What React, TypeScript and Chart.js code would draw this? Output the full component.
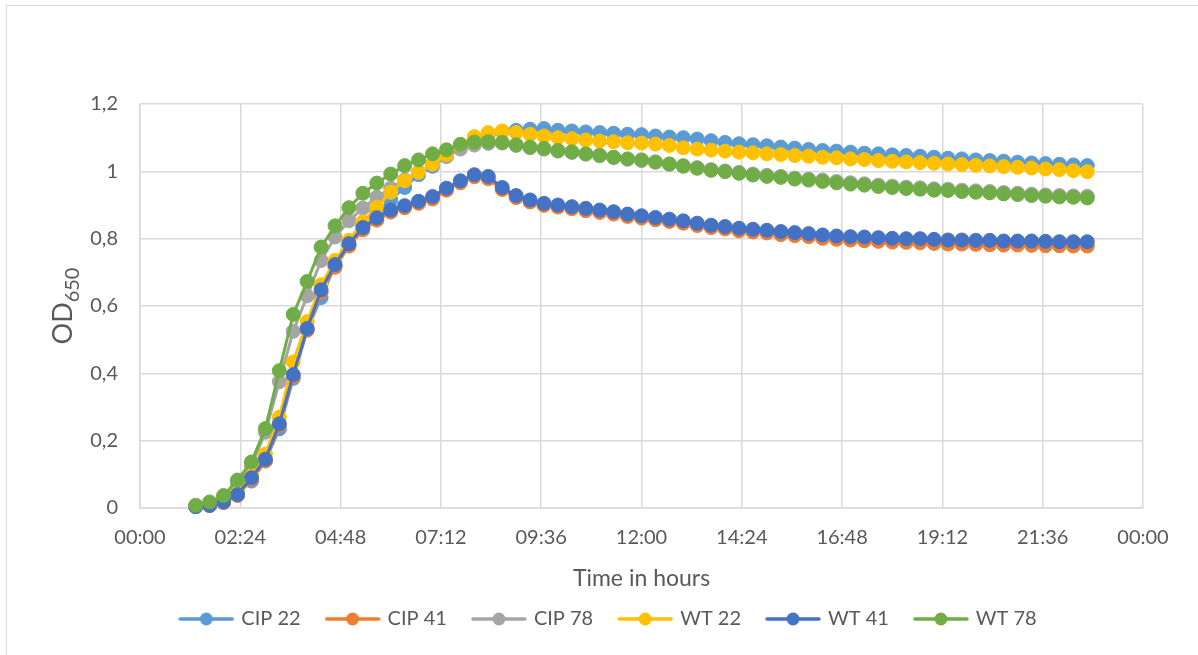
import React, { useEffect, useRef } from "react";
import { Chart, registerables } from "chart.js";

Chart.register(...registerables);

// ---- data ----
const timeLabels = [
  "01:20", "01:40", "02:00", "02:20", "02:40", "03:00", "03:20", "03:40", "04:00", "04:20",
  "04:40", "05:00", "05:20", "05:40", "06:00", "06:20", "06:40", "07:00", "07:20", "07:40",
  "08:00", "08:20", "08:40", "09:00", "09:20", "09:40", "10:00", "10:20", "10:40", "11:00",
  "11:20", "11:40", "12:00", "12:20", "12:40", "13:00", "13:20", "13:40", "14:00", "14:20",
  "14:40", "15:00", "15:20", "15:40", "16:00", "16:20", "16:40", "17:00", "17:20", "17:40",
  "18:00", "18:20", "18:40", "19:00", "19:20", "19:40", "20:00", "20:20", "20:40", "21:00",
  "21:20", "21:40", "22:00", "22:20", "22:40",
];

const cip22 = [
  0.004, 0.008, 0.02, 0.045, 0.08, 0.14, 0.235, 0.385, 0.53, 0.625,
  0.72, 0.78, 0.84, 0.88, 0.915, 0.952, 0.99, 1.015, 1.045, 1.075,
  1.095, 1.11, 1.118, 1.122, 1.125, 1.127, 1.122, 1.12, 1.117, 1.115,
  1.113, 1.11, 1.109, 1.105, 1.102, 1.1, 1.096, 1.091, 1.086, 1.082,
  1.079, 1.076, 1.072, 1.069, 1.065, 1.062, 1.06, 1.057, 1.054, 1.052,
  1.049, 1.047, 1.045, 1.042, 1.039, 1.037, 1.034, 1.032, 1.03, 1.027,
  1.025, 1.023, 1.021, 1.019, 1.017,
];

const cip41 = [
  0.004, 0.007, 0.016, 0.037, 0.085, 0.14, 0.245, 0.39, 0.528, 0.64,
  0.715, 0.778, 0.826, 0.855, 0.879, 0.892, 0.905, 0.918, 0.944, 0.966,
  0.984, 0.978, 0.946, 0.922, 0.909, 0.899, 0.894, 0.889, 0.883, 0.878,
  0.873, 0.866, 0.861, 0.856, 0.851, 0.846, 0.839, 0.833, 0.829, 0.823,
  0.82, 0.817, 0.812, 0.809, 0.806, 0.801, 0.798, 0.796, 0.794, 0.792,
  0.79, 0.789, 0.788, 0.786, 0.784, 0.784, 0.783, 0.782, 0.781, 0.781,
  0.78, 0.779, 0.779, 0.778, 0.778,
];

const cip78 = [
  0.005, 0.012, 0.03, 0.072, 0.125, 0.225, 0.375, 0.525, 0.63, 0.735,
  0.805, 0.853, 0.891, 0.923, 0.95, 0.975, 0.998, 1.02, 1.044, 1.066,
  1.078, 1.083, 1.084, 1.077, 1.07, 1.066, 1.06, 1.056, 1.051, 1.046,
  1.041, 1.036, 1.032, 1.027, 1.021, 1.017, 1.011, 1.005, 1.001, 0.997,
  0.992, 0.988, 0.985, 0.98, 0.977, 0.974, 0.97, 0.966, 0.963, 0.959,
  0.956, 0.953, 0.951, 0.948, 0.947, 0.944, 0.942, 0.94, 0.937, 0.935,
  0.932, 0.93, 0.928, 0.927, 0.926,
];

const wt22 = [
  0.005, 0.01, 0.022, 0.05, 0.1, 0.16, 0.27, 0.434, 0.554, 0.663,
  0.735, 0.795, 0.85, 0.893, 0.938, 0.972, 0.997, 1.022, 1.05, 1.08,
  1.103, 1.115, 1.12, 1.115, 1.11, 1.105, 1.1, 1.097, 1.093, 1.09,
  1.088, 1.085, 1.084, 1.081, 1.077, 1.07, 1.066, 1.063, 1.06, 1.057,
  1.055, 1.052, 1.05, 1.047, 1.045, 1.042, 1.04, 1.037, 1.035, 1.032,
  1.03, 1.028, 1.026, 1.024, 1.022, 1.02, 1.018, 1.016, 1.014, 1.012,
  1.01, 1.007, 1.005, 1.002, 0.999,
];

const wt41 = [
  0.004, 0.008, 0.018, 0.04, 0.09, 0.145, 0.25, 0.396, 0.533, 0.648,
  0.723, 0.785, 0.833, 0.862, 0.885, 0.898, 0.911, 0.925, 0.95, 0.972,
  0.99, 0.985, 0.952, 0.928, 0.915, 0.905, 0.9, 0.895, 0.89, 0.885,
  0.88, 0.873, 0.868, 0.863, 0.858, 0.853, 0.846, 0.84, 0.836, 0.831,
  0.828, 0.825, 0.821, 0.818, 0.815, 0.811, 0.808, 0.806, 0.805, 0.803,
  0.801, 0.8, 0.8, 0.798, 0.796, 0.796, 0.795, 0.795, 0.793, 0.793,
  0.793, 0.792, 0.791, 0.791, 0.791,
];

const wt78 = [
  0.008, 0.018, 0.037, 0.083, 0.137, 0.236, 0.408, 0.575, 0.673, 0.775,
  0.838, 0.892, 0.935, 0.965, 0.992, 1.017, 1.034, 1.052, 1.064, 1.08,
  1.087, 1.088, 1.086, 1.079, 1.072, 1.068, 1.062, 1.058, 1.052, 1.048,
  1.042, 1.037, 1.034, 1.028, 1.022, 1.015, 1.009, 1.003, 0.999, 0.994,
  0.989, 0.985, 0.982, 0.977, 0.974, 0.97, 0.966, 0.962, 0.959, 0.955,
  0.952, 0.949, 0.947, 0.944, 0.943, 0.94, 0.938, 0.936, 0.933, 0.931,
  0.928, 0.926, 0.924, 0.923, 0.921,
];

const seriesNames = ["CIP 22", "CIP 41", "CIP 78", "WT 22", "WT 41", "WT 78"];
const seriesValues = [cip22, cip41, cip78, wt22, wt41, wt78];
const seriesColors = ["#5B9BD5", "#ED7D31", "#A5A5A5", "#FFC000", "#4472C4", "#70AD47"];

const xTickHours = [0, 2.4, 4.8, 7.2, 9.6, 12, 14.4, 16.8, 19.2, 21.6, 24];
const xTickLabels = ["00:00", "02:24", "04:48", "07:12", "09:36", "12:00", "14:24", "16:48", "19:12", "21:36", "00:00"];
const yTickValues = [0, 0.2, 0.4, 0.6, 0.8, 1, 1.2];
const yTickLabels = ["0", "0,2", "0,4", "0,6", "0,8", "1", "1,2"];

const xTitle = "Time in hours";
const yTitleMain = "OD";
const yTitleSub = "650";

const FONT = "Lato";
const TEXT_COLOR = "#595959";
const GRID_COLOR = "#d9d9d9";

function toHours(s: string): number {
  const [h, m] = s.split(":").map(Number);
  return h + m / 60;
}

function makeLegendIcon(color: string): HTMLCanvasElement {
  const c = document.createElement("canvas");
  c.width = 56;
  c.height = 16;
  const g = c.getContext("2d")!;
  g.strokeStyle = color;
  g.lineWidth = 3.5;
  g.lineCap = "round";
  g.beginPath();
  g.moveTo(2, 8);
  g.lineTo(54, 8);
  g.stroke();
  g.fillStyle = color;
  g.beginPath();
  g.arc(28, 8, 6.5, 0, Math.PI * 2);
  g.fill();
  return c;
}

const yTitlePlugin = {
  id: "yTitleSub",
  afterDraw(chart: any) {
    const { ctx, chartArea } = chart;
    const cx = chartArea.left - 68;
    const cy = (chartArea.top + chartArea.bottom) / 2;
    ctx.save();
    ctx.translate(cx, cy);
    ctx.rotate(-Math.PI / 2);
    ctx.fillStyle = TEXT_COLOR;
    ctx.textBaseline = "alphabetic";
    ctx.textAlign = "left";
    ctx.font = `27px ${FONT}`;
    const w1 = ctx.measureText(yTitleMain).width;
    ctx.font = `20px ${FONT}`;
    const w2 = ctx.measureText(yTitleSub).width;
    const start = -(w1 + w2) / 2;
    ctx.font = `27px ${FONT}`;
    ctx.fillText(yTitleMain, start, 0);
    ctx.font = `20px ${FONT}`;
    ctx.fillText(yTitleSub, start + w1, 7);
    ctx.restore();
  },
};

export default function App() {
  const canvasRef = useRef<HTMLCanvasElement | null>(null);

  useEffect(() => {
    if (!canvasRef.current) return;
    const icons = seriesColors.map(makeLegendIcon);
    const xs = timeLabels.map(toHours);

    const datasets = seriesNames.map((name, i) => ({
      label: name,
      data: xs.map((x, j) => ({ x, y: seriesValues[i][j] })),
      borderColor: seriesColors[i],
      backgroundColor: seriesColors[i],
      pointBackgroundColor: seriesColors[i],
      pointBorderColor: seriesColors[i],
      pointBorderWidth: 1,
      pointRadius: 7,
      borderWidth: 3,
      tension: 0,
      clip: false as any,
      order: seriesNames.length - 1 - i,
    }));

    const chart = new Chart(canvasRef.current, {
      type: "line",
      data: { datasets },
      options: {
        responsive: false,
        animation: false,
        layout: { padding: { top: 104, right: 55, left: 75, bottom: 16 } },
        plugins: {
          tooltip: { enabled: false },
          legend: {
            position: "bottom",
            labels: {
              usePointStyle: true,
              pointStyleWidth: 50,
              padding: 27,
              color: TEXT_COLOR,
              font: { family: FONT, size: 20 },
              generateLabels: () =>
                seriesNames.map((name, i) => ({
                  text: name,
                  fillStyle: seriesColors[i],
                  strokeStyle: seriesColors[i],
                  lineWidth: 0,
                  pointStyle: icons[i] as any,
                  hidden: false,
                  datasetIndex: i,
                  fontColor: TEXT_COLOR,
                })),
            },
          },
        },
        scales: {
          x: {
            type: "linear",
            min: 0,
            max: 24,
            afterBuildTicks: (scale: any) => {
              scale.ticks = xTickHours.map((v) => ({ value: v }));
            },
            afterFit: (scale: any) => {
              scale.height = 74;
            },
            ticks: {
              autoSkip: false,
              maxRotation: 0,
              padding: 18,
              color: TEXT_COLOR,
              font: { family: FONT, size: 20 },
              callback: (_v: any, idx: number) => xTickLabels[idx],
            },
            grid: { color: GRID_COLOR, lineWidth: 1.5, drawTicks: false },
            border: { color: GRID_COLOR, width: 1.5 },
            title: {
              display: true,
              text: xTitle,
              color: TEXT_COLOR,
              font: { family: FONT, size: 23 },
              padding: { top: 0, bottom: -10 },
            },
          },
          y: {
            type: "linear",
            min: 0,
            max: 1.2,
            afterBuildTicks: (scale: any) => {
              scale.ticks = yTickValues.map((v) => ({ value: v }));
            },
            afterFit: (scale: any) => {
              scale.width = 65;
            },
            ticks: {
              padding: 22,
              color: TEXT_COLOR,
              font: { family: FONT, size: 20 },
              callback: (_v: any, idx: number) => yTickLabels[idx],
            },
            grid: { color: GRID_COLOR, lineWidth: 1.5, drawTicks: false },
            border: { color: GRID_COLOR, width: 1.5 },
          },
        },
      },
      plugins: [yTitlePlugin],
    });

    return () => chart.destroy();
  }, []);

  return (
    <div
      style={{
        position: "absolute",
        left: 0,
        top: 0,
        width: 1198,
        height: 655,
        overflow: "hidden",
        background: "#ffffff",
      }}
    >
      <div
        style={{
          position: "absolute",
          left: 6,
          top: 5,
          width: 1210,
          height: 670,
          border: "1.5px solid #d9d9d9",
        }}
      />
      <canvas
        ref={canvasRef}
        width={1198}
        height={655}
        style={{ position: "absolute", left: 0, top: 0, width: 1198, height: 655 }}
      />
    </div>
  );
}
